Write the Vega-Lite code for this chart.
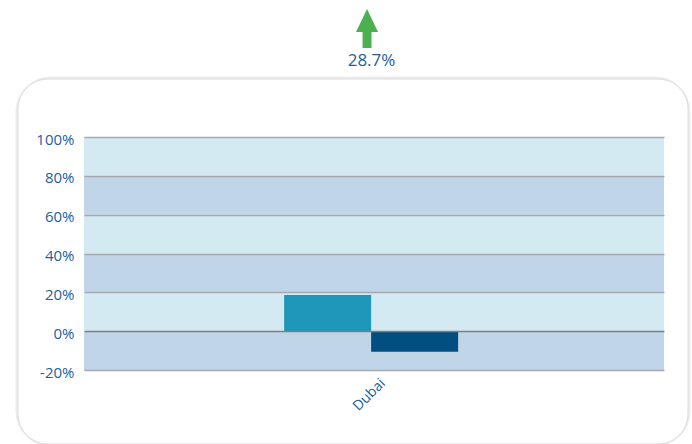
{
  "$schema": "https://vega.github.io/schema/vega-lite/v6.json",
  "width": 580,
  "height": 233,
  "autosize": {"type": "none"},
  "padding": {"left": 84, "top": 137, "right": 28, "bottom": 74},
  "background": "white",
  "config": {"view": {"stroke": null}, "font": "Open Sans"},
  "datasets": {
    "bars": [
      {"city": "Dubai", "series": "Previous", "value": 18.6},
      {"city": "Dubai", "series": "Current", "value": -10.6}
    ],
    "bands": [
      {"lo": -20, "hi": 0, "shade": "dark"},
      {"lo": 0, "hi": 20, "shade": "light"},
      {"lo": 20, "hi": 40, "shade": "dark"},
      {"lo": 40, "hi": 60, "shade": "light"},
      {"lo": 60, "hi": 80, "shade": "dark"},
      {"lo": 80, "hi": 100, "shade": "light"}
    ],
    "summary": [{"city": "Dubai", "change": 0.287}],
    "card": [{"card": "panel"}]
  },
  "resolve": {"scale": {"x": "independent"}, "axis": {"x": "independent"}},
  "layer": [
    {
      "data": {"name": "card"},
      "mark": {"type": "rect", "cornerRadius": 33, "fill": "#f4f4f4", "stroke": "#ececec", "strokeWidth": 5},
      "encoding": {
        "x": {"datum": -0.1138, "type": "quantitative", "scale": {"domain": [0, 1], "nice": false, "zero": false}, "axis": null},
        "x2": {"datum": 1.0414},
        "y": {"datum": 129.87, "type": "quantitative"},
        "y2": {"datum": -58.1}
      }
    },
    {
      "data": {"name": "card"},
      "mark": {"type": "rect", "cornerRadius": 30, "fill": "white", "stroke": "#dcdcdc", "strokeWidth": 1},
      "encoding": {
        "x": {"datum": -0.1138, "type": "quantitative", "scale": {"domain": [0, 1], "nice": false, "zero": false}, "axis": null},
        "x2": {"datum": 1.0414},
        "y": {"datum": 129.87, "type": "quantitative"},
        "y2": {"datum": -58.1}
      }
    },
    {
      "data": {"name": "bands"},
      "mark": {"type": "rect"},
      "encoding": {
        "y": {"field": "lo", "type": "quantitative", "scale": {"domain": [-20, 100], "nice": false, "zero": false}},
        "y2": {"field": "hi"},
        "fill": {"field": "shade", "type": "nominal", "scale": {"domain": ["light", "dark"], "range": ["#d3eaf2", "#c1d5e9"]}, "legend": null}
      }
    },
    {
      "data": {"name": "bars"},
      "mark": {"type": "bar"},
      "encoding": {
        "x": {
          "field": "city", "type": "nominal",
          "scale": {"paddingInner": 0, "paddingOuter": 1, "align": 0.4926},
          "axis": {"title": null, "domain": false, "ticks": false, "grid": false, "labelAngle": -45, "labelColor": "#22609a", "labelFontSize": 14, "labelPadding": 6, "labelOffset": 7, "zindex": 2}
        },
        "xOffset": {"field": "series", "type": "nominal", "sort": ["Previous", "Current"], "scale": {"paddingInner": 0, "paddingOuter": 0.111}},
        "y": {
          "field": "value", "type": "quantitative",
          "axis": {
            "title": null, "domain": false, "ticks": false, "grid": true,
            "values": [-20, 0, 20, 40, 60, 80, 100],
            "tickCount": 12,
            "labelOverlap": false,
            "labelExpr": "datum.value + '%'",
            "labelColor": "#22609a", "labelFontSize": 15, "labelPadding": 10, "labelOffset": 2,
            "gridColor": {"condition": {"test": "datum.value === 0", "value": "#7f7f7f"}, "value": "#a3a9ae"},
            "gridWidth": 1.6,
            "zindex": 2
          }
        },
        "color": {"field": "series", "type": "nominal", "scale": {"domain": ["Previous", "Current"], "range": ["#1f97bb", "#004f80"]}, "legend": null}
      }
    },
    {
      "data": {"name": "summary"},
      "mark": {"type": "point", "shape": "M0,-1 L0.564,0.18 L0.23,0.18 L0.23,1 L-0.23,1 L-0.23,0.18 L-0.564,0.18 Z", "filled": true, "size": 1521, "color": "#4cb050", "opacity": 1},
      "encoding": {
        "x": {"datum": 0.488, "type": "quantitative", "scale": {"domain": [0, 1], "nice": false, "zero": false}, "axis": null},
        "y": {"datum": 155.9, "type": "quantitative"}
      }
    },
    {
      "data": {"name": "summary"},
      "mark": {"type": "text", "fontSize": 17, "color": "#22609a", "baseline": "middle", "align": "center"},
      "encoding": {
        "x": {"datum": 0.4957, "type": "quantitative", "scale": {"domain": [0, 1], "nice": false, "zero": false}, "axis": null},
        "y": {"datum": 138.9, "type": "quantitative"},
        "text": {"field": "change", "type": "quantitative", "format": ".1%"}
      }
    }
  ]
}
